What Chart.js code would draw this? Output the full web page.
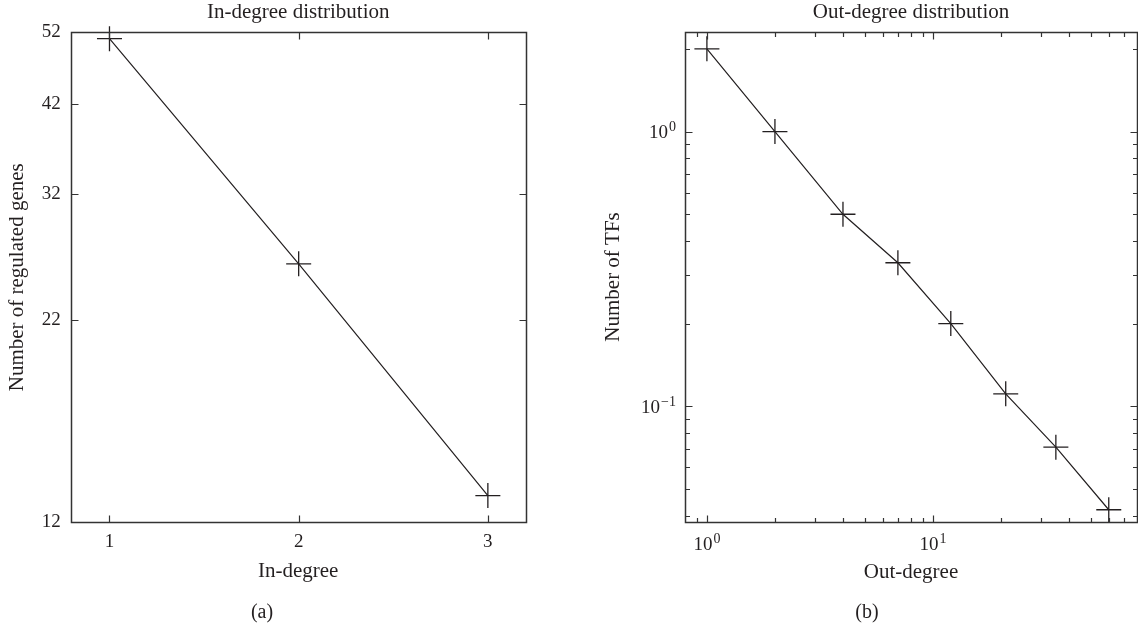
<!DOCTYPE html>
<html>
<head>
<meta charset="utf-8">
<script src="https://cdn.jsdelivr.net/npm/chart.js"></script>
<style>
  body { margin: 0; background: #fff; }
  #wrap { position: relative; width: 1138px; height: 627px; font-family: "Liberation Serif", "DejaVu Serif", serif; color: #231f20; }
  canvas { position: absolute; top: 0; }
  #ca { left: 0; }
  #cb { left: 560px; }
  .cap { position: absolute; top: 600px; font-size: 20px; line-height: 23px; transform: translateX(-50%); }
</style>
</head>
<body>
<div id="wrap">
  <canvas id="ca" width="560" height="627"></canvas>
  <canvas id="cb" width="578" height="627"></canvas>
  <div class="cap" style="left:262px">(a)</div>
  <div class="cap" style="left:867px">(b)</div>
</div>
<script>
// panel (a)
const inDegree = [1, 2, 3];
const regulatedGenes = [51, 26, 13];
const xTicksA = [1, 2, 3];
const yTicksA = [12, 22, 32, 42, 52];
// panel (b)
const outDegree = [1, 2, 4, 7, 12, 21, 35, 60];
const numTFs = [2, 1, 0.5, 0.333, 0.2, 0.111, 0.071, 0.042];

const ink = '#231f20';
const family = '"Liberation Serif", "DejaVu Serif", serif';
Chart.defaults.font.family = family;
Chart.defaults.color = ink;
Chart.defaults.animation = false;

// 1..9 x 10^e ticks inside the range, 10^e counted as major
function logTicks(min, max) {
    let out = [];
    for (let e = Math.floor(Math.log10(min)); e <= Math.ceil(Math.log10(max)); e++) {
        for (let k = 1; k <= 9; k++) {
            let v = +(k * Math.pow(10, e)).toPrecision(6);
            if (v > min * 1.005 && v < max / 1.005) out.push({ value: v, minor: k !== 1 });
        }
    }
    return out;
}

function exponentOf(v) {
    return String(Math.round(Math.log10(v))).replace('-', '\u2212');
}

// box frame with inward ticks on all four sides
const frameTicks = {
    id: 'frameTicks',
    afterDraw(chart) {
        const { ctx, chartArea: a, scales } = chart;
        const L = Math.round(a.left) + 0.5, R = Math.round(a.right) + 0.5;
        const T = Math.round(a.top) + 0.5, B = Math.round(a.bottom) + 0.5;
        ctx.save();
        ctx.strokeStyle = '#333';
        ctx.lineWidth = 1.5;
        ctx.strokeRect(L, T, R - L, B - T);
        ctx.lineWidth = 1.2;
        ctx.beginPath();
        scales.x.ticks.forEach(t => {
            let px = Math.round(scales.x.getPixelForValue(t.value)) + 0.5;
            let len = t.minor ? 4.5 : 7;
            ctx.moveTo(px, B); ctx.lineTo(px, B - len);
            ctx.moveTo(px, T); ctx.lineTo(px, T + len);
        });
        scales.y.ticks.forEach(t => {
            let py = Math.round(scales.y.getPixelForValue(t.value)) + 0.5;
            let len = t.minor ? 4.5 : 7;
            ctx.moveTo(L, py); ctx.lineTo(L + len, py);
            ctx.moveTo(R, py); ctx.lineTo(R - len, py);
        });
        ctx.stroke();
        ctx.restore();
    }
};

// "10" with a raised exponent for the decade ticks of log axes
const powerTicks = {
    id: 'powerTicks',
    afterDraw(chart) {
        const { ctx, chartArea: a, scales } = chart;
        const baseFont = '19px ' + family, expFont = '14px ' + family;
        ctx.save();
        ctx.fillStyle = ink;
        ctx.textAlign = 'left';
        ctx.textBaseline = 'alphabetic';
        function put(v, x0, y) {
            ctx.font = baseFont;
            let wb = ctx.measureText('10').width;
            ctx.fillText('10', x0, y);
            ctx.font = expFont;
            ctx.fillText(exponentOf(v), x0 + wb + 1, y - 7);
        }
        function width(v) {
            ctx.font = baseFont;
            let wb = ctx.measureText('10').width;
            ctx.font = expFont;
            return wb + 1 + ctx.measureText(exponentOf(v)).width;
        }
        scales.x.ticks.filter(t => !t.minor).forEach(t => {
            let px = scales.x.getPixelForValue(t.value);
            put(t.value, px - width(t.value) / 2, a.bottom + 28);
        });
        scales.y.ticks.filter(t => !t.minor).forEach(t => {
            let py = scales.y.getPixelForValue(t.value);
            put(t.value, a.left - 9 - width(t.value), py + 6.5);
        });
        ctx.restore();
    }
};

const lineStyle = {
    borderColor: ink,
    borderWidth: 1.2,
    pointStyle: 'cross',
    pointRadius: 12.5,
    pointBorderWidth: 1.3,
    pointBorderColor: ink,
    tension: 0,
    clip: false
};

const noGrid = { display: false, drawTicks: false };
const titleFont = { size: 21, weight: 'normal' };

new Chart(document.getElementById('ca'), {
    type: 'line',
    data: {
        datasets: [{ data: inDegree.map((x, i) => ({ x: x, y: regulatedGenes[i] })), ...lineStyle }]
    },
    options: {
        responsive: false,
        layout: { autoPadding: false, padding: { left: 0, right: 34.3, top: 0, bottom: 42.9 } },
        plugins: {
            legend: { display: false },
            tooltip: { enabled: false },
            title: {
                display: true, text: 'In-degree distribution', fullSize: false, color: ink,
                font: titleFont, padding: { top: 0, bottom: 7 }
            }
        },
        scales: {
            x: {
                type: 'linear', min: 0.795, max: 3.2,
                afterBuildTicks: s => { s.ticks = xTicksA.map(v => ({ value: v })); },
                afterFit: s => { s.height = 61.8; },
                grid: noGrid, border: { display: false },
                ticks: { padding: 8, font: { size: 19 }, callback: v => String(v) },
                title: { display: true, text: 'In-degree', font: titleFont, padding: { top: 0, bottom: 0 } }
            },
            y: {
                type: 'logarithmic', min: 12, max: 52,
                afterBuildTicks: s => { s.ticks = yTicksA.map(v => ({ value: v })); },
                afterFit: s => { s.width = 70.7; },
                grid: noGrid, border: { display: false },
                ticks: { padding: 10, font: { size: 19 }, autoSkip: false, callback: v => String(v) },
                title: { display: true, text: 'Number of regulated genes', font: titleFont, padding: { top: 4.6, bottom: 0 } }
            }
        }
    },
    plugins: [frameTicks]
});

new Chart(document.getElementById('cb'), {
    type: 'line',
    data: {
        datasets: [{ data: outDegree.map((x, i) => ({ x: x, y: numTFs[i] })), ...lineStyle }]
    },
    options: {
        responsive: false,
        layout: { autoPadding: false, padding: { left: 40, right: 1, top: 0, bottom: 42.4 } },
        plugins: {
            legend: { display: false },
            tooltip: { enabled: false },
            title: {
                display: true, text: 'Out-degree distribution', fullSize: false, color: ink,
                font: titleFont, padding: { top: 0, bottom: 7 }
            }
        },
        scales: {
            x: {
                type: 'logarithmic', min: 0.8, max: 80,
                afterBuildTicks: s => { s.ticks = logTicks(s.min, s.max); },
                afterFit: s => { s.height = 62.9; },
                grid: noGrid, border: { display: false },
                ticks: { display: false },
                title: { display: true, text: 'Out-degree', font: titleFont, padding: { top: 0, bottom: 0 } }
            },
            y: {
                type: 'logarithmic', min: 0.038, max: 2.3,
                afterBuildTicks: s => { s.ticks = logTicks(s.min, s.max); },
                afterFit: s => { s.width = 85; },
                grid: noGrid, border: { display: false },
                ticks: { display: false },
                title: { display: true, text: 'Number of TFs', font: titleFont, padding: { top: 0.8, bottom: 0 } }
            }
        }
    },
    plugins: [frameTicks, powerTicks]
});
</script>
</body>
</html>
